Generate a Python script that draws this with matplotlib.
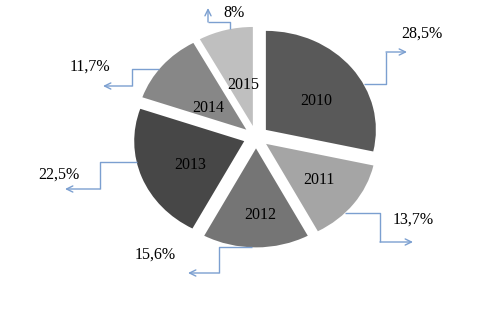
import numpy as np
import matplotlib
matplotlib.use("Agg")
import matplotlib.pyplot as plt

# ---- data ----
years = ["2010", "2011", "2012", "2013", "2014", "2015"]
shares = [28.5, 13.7, 15.6, 22.5, 11.7, 8.0]
pct_labels = ["28,5%", "13,7%", "15,6%", "22,5%", "11,7%", "8%"]

# ---- styles / layout ----
colors = ["#595959", "#a5a5a5", "#757575", "#474747", "#878787", "#bfbfbf"]
explode_d = 0.115
line_color = "#7b9fd0"
W, H = 487, 320
CX, CY, RX, RY = 256, 137, 110, 99

def to_data(px, py):
    return (px - CX) / RX, (CY - py) / RY

# inside-label placement (angle deg, radius) relative to pie centre
year_pos = [(33.7, 0.655), (-37.0, 0.72), (-87.4, 0.79), (-154.7, 0.66),
            (146.0, 0.525), (102.7, 0.54)]
# leader start angle (deg) on outer edge
start_ang = [27.4, -44.2, -92.0, -167.7, -217.7, -258.0]
# leader elbows in pixels: (mode, a, b, c)
leaders = [("h", 386, 52, 407), ("h", 380, 242, 413), ("h", 219, 273, 188),
           ("h", 100, 189, 65), ("h", 132, 86, 103), ("v", 22, 208, 8)]
pct_pos = [(422, 34), (413, 220), (155, 255), (59, 175), (90, 67), (234, 13)]

fig = plt.figure(figsize=(W / 100, H / 100), dpi=100)
ax = fig.add_axes([0, 0, 1, 1])
wedges, _ = ax.pie(shares, colors=colors, startangle=90, counterclock=False,
                   explode=[explode_d] * len(shares), radius=1,
                   wedgeprops=dict(linewidth=0))
ax.set_aspect("auto")
ax.set_xlim(-CX / RX, (W - CX) / RX)
ax.set_ylim(-(H - CY) / RY, CY / RY)
ax.axis("off")

font = dict(family=["Liberation Serif", "DejaVu Serif"], fontsize=11.5, color="black")

for i, w in enumerate(wedges):
    mid = np.deg2rad((w.theta1 + w.theta2) / 2)
    ox, oy = explode_d * np.cos(mid), explode_d * np.sin(mid)
    ya, yr = year_pos[i]
    ax.text(yr * np.cos(np.deg2rad(ya)), yr * np.sin(np.deg2rad(ya)), years[i],
            ha="center", va="center", **font)
    a = np.deg2rad(start_ang[i])
    sx, sy = ox + np.cos(a), oy + np.sin(a)
    spx, spy = CX + sx * RX, CY - sy * RY
    mode, p1, p2, p3 = leaders[i]
    if mode == "h":
        pts = [(spx, spy), (p1, spy), (p1, p2), (p3, p2)]
    else:
        pts = [(spx, spy), (spx, p1), (p2, p1), (p2, p3)]
    dpts = [to_data(*p) for p in pts]
    xs, ys = zip(*dpts[:-1])
    ax.plot(xs, ys, color=line_color, lw=1.0, solid_capstyle="butt")
    ax.annotate("", xy=dpts[-1], xytext=dpts[-2],
                arrowprops=dict(arrowstyle="->,head_length=0.45,head_width=0.22",
                                color=line_color, lw=1.0, shrinkA=0, shrinkB=0))
    tx, ty = to_data(*pct_pos[i])
    ax.text(tx, ty, pct_labels[i], ha="center", va="center", **font)

fig.savefig("out.png", dpi=100)
